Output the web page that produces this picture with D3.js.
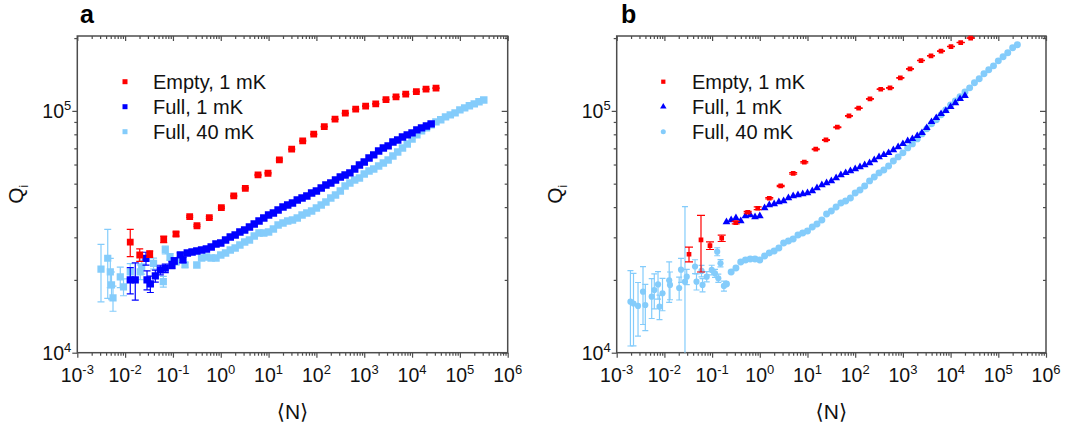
<!DOCTYPE html>
<html>
<head>
<meta charset="utf-8">
<script src="https://cdn.jsdelivr.net/npm/d3@7"></script>
<style>
  body { margin: 0; background: #fff; }
  svg { display: block; font-family: "Liberation Sans", Arial, "DejaVu Sans", sans-serif; }
</style>
</head>
<body>
<div id="chart"></div>
<script>
// Values: mean photon number <N> and internal quality factor Qi

var legendLabels = ["Empty, 1 mK", "Full, 1 mK", "Full, 40 mK"];
var panelLetters = ["a", "b"];
var xTickExps = [-3, -2, -1, 0, 1, 2, 3, 4, 5, 6];
var yTickExps = [4, 5];

// ---------- panel a ----------
var emptyA_N = [0.0128, 0.0202, 0.0327, 0.0641, 0.116, 0.224, 0.318, 0.576, 1.03, 1.87, 3.26, 6.01, 9.73, 16.8, 30.4,
  51.7, 87.9, 146, 245, 402, 663, 1070, 1740, 2850, 4620, 7380, 12300, 19600, 31700];
var emptyA_Q = [28650, 25350, 25590, 29440, 30960, 36540, 33490, 36190, 39810, 44470, 47860, 54330, 55210, 62680, 69420,
  75160, 80100, 86100, 92400, 97800, 101600, 104600, 106900, 111400, 114300, 117300, 120200, 123000, 124200];
var emptyA_err = [3700, 1500, 800, 900, 600, 300, 300, 300, 300, 300, 300, 300, 300, 600, 300,
  300, 300, 300, 300, 300, 300, 300, 300, 300, 300, 300, 300, 300, 300];

var fullA_lowN = [0.0128, 0.0163, 0.0273, 0.0287, 0.0337, 0.0428, 0.0544, 0.0692, 0.0955, 0.1067, 0.1425, 0.162];
var fullA_lowQ = [20000, 20000, 24530, 20000, 19240, 20770, 21990, 22350, 23060, 23950, 25360, 24180];
var fullA_lowErr = [2500, 3500, 1500, 1800, 1500, 1200, 1000, 900, 800, 700, 500, 600];
var fullA_N = [0.200, 0.251, 0.316, 0.398, 0.501, 0.631, 0.794, 1.00, 1.26, 1.58, 2.00, 2.51, 3.16, 3.98, 5.01, 6.31, 7.94,
  10.0, 12.6, 15.8, 20.0, 25.1, 31.6, 39.8, 50.1, 63.1, 79.4, 100, 126, 158, 200, 251, 316, 398, 501, 631, 794,
  1000, 1260, 1580, 2000, 2510, 3160, 3980, 5010, 6310, 7940, 10000, 12600, 15800, 20000, 25100];
var fullA_Q = [25850, 26100, 26350, 26600, 26850, 27370, 28170, 28440, 29260, 30110, 30690, 31580, 32190, 33120, 34080, 35070, 36090,
  37130, 37840, 38940, 40070, 40840, 41630, 42830, 43650, 44490, 45780, 46670, 48020, 49410, 50370, 51830, 53330, 54360, 55410, 57540, 59780,
  61520, 63910, 65770, 68320, 70300, 71660, 74430, 75860, 78060, 79570, 81100, 83450, 85060, 86680, 88360];

var warmA_lowN = [0.00313, 0.00433, 0.00490, 0.00519, 0.00558, 0.00792, 0.00925, 0.0128, 0.0207, 0.0222, 0.0393, 0.0629,
  0.0692, 0.0868, 0.116, 0.179];
var warmA_lowQ = [22140, 24580, 21570, 19060, 16840, 20570, 18700, 21570, 21570, 22630, 23390, 19670,
  26600, 24880, 23730, 23060];
var warmA_lowErr = [5900, 7800, 3000, 2500, 2000, 2000, 1500, 1800, 1500, 1500, 1200, 1000,
  1000, 800, 600, 500];
var warmA_N = [0.316, 0.398, 0.501, 0.631, 0.794, 1.00, 1.26, 1.58, 2.00, 2.51, 3.16, 3.98, 5.01, 6.31, 7.94,
  10.0, 12.6, 15.8, 20.0, 25.1, 31.6, 39.8, 50.1, 63.1, 79.4, 100, 126, 158, 200, 251, 316, 398, 501, 631, 794,
  1000, 1260, 1580, 2000, 2510, 3160, 3980, 5010, 6310, 7940, 10000, 12600, 15800, 20000, 25100, 31600, 39800, 50100,
  63100, 79400, 100000, 126000, 158000, 200000, 251000, 316000];
var warmA_Q = [23060, 24650, 24880, 24650, 24650, 25360, 25850, 26600, 27110, 27900, 28710, 29260, 30400, 31280, 31280,
  31580, 32500, 33760, 34410, 35070, 35400, 36090, 37130, 37840, 38570, 39690, 40840, 42020, 43650, 44920, 46670, 48940, 50370, 51830, 52830,
  54880, 56470, 57540, 59210, 60940, 62700, 65140, 67670, 70300, 73030, 76590, 79570, 82670, 85060, 87520, 90050, 91800, 94450,
  96270, 98110, 100950, 102900, 104900, 106900, 109000, 111000];

// ---------- panel b ----------
var emptyB_N = [0.0328, 0.0585, 0.0903, 0.159, 0.313, 0.557, 0.904, 1.58, 2.74, 5.01, 8.57, 14.9, 24.4, 42.2,
  74.1, 118, 204, 343, 537, 883, 1409, 2395, 3880, 6290, 10190, 16290, 26360];
var emptyB_Q = [25530, 29260, 27720, 29730, 34510, 38090, 39570, 43530, 48940, 55140, 61350, 69430, 75860, 85630,
  95350, 102600, 112100, 122900, 124500, 136900, 149200, 161500, 168900, 176600, 184500, 191700, 200000];
var emptyB_err = [1800, 7700, 1000, 900, 400, 300, 500, 300, 300, 400, 400, 300, 300, 300,
  300, 300, 300, 300, 300, 300, 300, 300, 300, 300, 300, 300, 300];

var fullB_N = [0.200, 0.251, 0.316, 0.398, 0.501, 0.631, 0.794, 1.00, 1.26, 1.58, 2.00, 2.51, 3.16, 3.98, 5.01, 6.31, 7.94,
  10.0, 12.6, 15.8, 20.0, 25.1, 31.6, 39.8, 50.1, 63.1, 79.4, 100, 126, 158, 200, 251, 316, 398, 501, 631, 794,
  1000, 1260, 1580, 2000, 2510, 3160, 3980, 5010, 6310, 7940, 10000, 12600, 15800, 20000];
var fullB_Q = [34740, 35400, 36090, 35070, 36780, 37130, 36430, 36780, 39690, 40840, 41230, 42020, 42420, 43650, 44490, 44920, 45350,
  45780, 46670, 48020, 49410, 50370, 51340, 52830, 54360, 55410, 56470, 57540, 58650, 59780, 60940, 62700, 64520, 65770, 67040, 68970, 70970,
  73030, 75140, 76590, 78820, 81100, 85060, 90050, 93550, 97190, 100000, 103900, 107900, 112100, 115400];

var warmB_lowN = [0.00194, 0.00225, 0.00280, 0.00356, 0.00398, 0.00542, 0.00614, 0.00735, 0.00789, 0.00912, 0.0126, 0.0131,
  0.0204, 0.0223, 0.0270, 0.0294, 0.0439, 0.0471, 0.0600, 0.0630, 0.0771, 0.0982, 0.115, 0.128, 0.135, 0.150, 0.177];
var warmB_lowQ = [16260, 15980, 15610, 17880, 15750, 17050, 18170, 19150, 15500, 17610, 19940, 19060,
  18520, 22050, 19670, 20630, 22730, 19670, 21780, 19060, 20630, 21990, 21300, 26170, 20320, 23440, 18880];
var warmB_lowErr = [5600, 5300, 3900, 4800, 3400, 3200, 3000, 2500, 1800, 2700, 3800, 2500,
  2000, 2500, 20500, 1500, 1500, 1500, 1200, 1200, 1000, 1000, 800, 1000, 800, 800, 900];
var warmB_N = [0.200, 0.251, 0.316, 0.398, 0.501, 0.631, 0.794, 1.00, 1.26, 1.58, 2.00, 2.51, 3.16, 3.98, 5.01, 6.31, 7.94,
  10.0, 12.6, 15.8, 20.0, 25.1, 31.6, 39.8, 50.1, 63.1, 79.4, 100, 126, 158, 200, 251, 316, 398, 501, 631, 794,
  1000, 1260, 1580, 2000, 2510, 3160, 3980, 5010, 6310, 7940, 10000, 12600, 15800, 20000, 25100, 31600, 39800, 50100,
  63100, 79400, 100000, 126000, 158000, 200000, 251000];
var warmB_Q = [19240, 21570, 22410, 23730, 24180, 24420, 24420, 24180, 25120, 25850, 26350, 27110, 28440, 28980, 29540, 30690, 31280,
  31880, 33120, 34080, 35400, 37480, 38570, 40070, 41630, 42420, 43650, 45780, 47120, 48940, 51340, 53330, 55410, 57000, 59210, 62100, 64520,
  67040, 70300, 73030, 76590, 80320, 84250, 88360, 91800, 96270, 100950, 105900, 110000, 114300, 119800, 124500, 130600, 135700, 142300,
  147800, 153500, 161000, 167300, 173800, 182300, 187600];

// ---------- drawing ----------
var width = 1066, height = 429;
var red = "#ff0000", blue = "#0000ff", lightBlue = "#84ccfb";
var axisColor = "#4d4d4d";

var svg = d3.select("#chart").append("svg")
  .attr("width", width)
  .attr("height", height);
svg.append("rect").attr("width", width).attr("height", height).attr("fill", "#fff");

var panels = [
  {
    letter: panelLetters[0], left: 77.3, right: 507.7, top: 36, bottom: 352.7,
    letterX: 80, qX: 23, legX: 125, legTextX: 153, legY: 81.7,
    series: [
      { N: warmA_lowN, Q: warmA_lowQ, err: warmA_lowErr, shape: d3.symbolSquare, size: 52, color: lightBlue, cap: 7 },
      { N: warmA_N, Q: warmA_Q, shape: d3.symbolSquare, size: 56, color: lightBlue },
      { N: fullA_lowN, Q: fullA_lowQ, err: fullA_lowErr, shape: d3.symbolSquare, size: 52, color: blue, cap: 7 },
      { N: fullA_N, Q: fullA_Q, shape: d3.symbolSquare, size: 56, color: blue },
      { N: emptyA_N, Q: emptyA_Q, err: emptyA_err, shape: d3.symbolSquare, size: 46, color: red, cap: 7 }
    ],
    legend: [
      { shape: d3.symbolSquare, size: 25, color: red },
      { shape: d3.symbolSquare, size: 25, color: blue },
      { shape: d3.symbolSquare, size: 25, color: lightBlue }
    ]
  },
  {
    letter: panelLetters[1], left: 616.7, right: 1046, top: 36, bottom: 352.7,
    letterX: 621, qX: 562, legX: 663.3, legTextX: 692, legY: 81.7,
    series: [
      { N: warmB_lowN, Q: warmB_lowQ, err: warmB_lowErr, shape: d3.symbolCircle, size: 30, color: lightBlue, cap: 6 },
      { N: warmB_N, Q: warmB_Q, shape: d3.symbolCircle, size: 38, color: lightBlue },
      { N: fullB_N, Q: fullB_Q, shape: d3.symbolTriangle, size: 26, color: blue },
      { N: emptyB_N, Q: emptyB_Q, err: emptyB_err, shape: d3.symbolSquare, size: 22, color: red, cap: 8 }
    ],
    legend: [
      { shape: d3.symbolSquare, size: 18, color: red },
      { shape: d3.symbolTriangle, size: 18, color: blue },
      { shape: d3.symbolCircle, size: 20, color: lightBlue }
    ]
  }
];

function minorValues(exps) {
  var out = [];
  for (var i = 0; i < exps.length - 1; i++) {
    for (var m = 2; m <= 9; m++) out.push(m * Math.pow(10, exps[i]));
  }
  return out;
}

panels.forEach(function (p, pi) {
  var x = d3.scaleLog().domain([1e-3, 1e6]).range([p.left, p.right]);
  var y = d3.scaleLog().domain([1e4, 2.04e5]).range([p.bottom, p.top]);
  var g = svg.append("g");

  var xMajor = xTickExps.map(function (e) { return Math.pow(10, e); });
  var xMinor = minorValues(xTickExps);
  var yMajor = yTickExps.map(function (e) { return Math.pow(10, e); });
  var yMinor = minorValues([4, 5, 6]).filter(function (v) { return v <= 2.04e5; });

  // axes: bottom/left ticks outward, top/right ticks inward
  function addAxis(axis, tr) {
    var a = g.append("g").attr("transform", tr).call(axis);
    a.select(".domain").remove();
    a.selectAll("line").attr("stroke", axisColor).attr("stroke-width", 1.2);
  }
  addAxis(d3.axisBottom(x).tickValues(xMajor).tickSize(5).tickFormat(""), "translate(0," + p.bottom + ")");
  addAxis(d3.axisBottom(x).tickValues(xMinor).tickSize(3).tickFormat(""), "translate(0," + p.bottom + ")");
  addAxis(d3.axisTop(x).tickValues(xMajor).tickSize(-5).tickFormat(""), "translate(0," + p.top + ")");
  addAxis(d3.axisTop(x).tickValues(xMinor).tickSize(-3).tickFormat(""), "translate(0," + p.top + ")");
  addAxis(d3.axisLeft(y).tickValues(yMajor).tickSize(5).tickFormat(""), "translate(" + p.left + ",0)");
  addAxis(d3.axisLeft(y).tickValues(yMinor).tickSize(3).tickFormat(""), "translate(" + p.left + ",0)");
  addAxis(d3.axisRight(y).tickValues(yMajor).tickSize(-6).tickFormat(""), "translate(" + p.right + ",0)");
  addAxis(d3.axisRight(y).tickValues(yMinor).tickSize(-3).tickFormat(""), "translate(" + p.right + ",0)");

  // frame
  g.append("rect")
    .attr("x", p.left).attr("y", p.top)
    .attr("width", p.right - p.left).attr("height", p.bottom - p.top)
    .attr("fill", "none").attr("stroke", axisColor).attr("stroke-width", 1.5);

  // tick labels with superscript exponents
  xTickExps.forEach(function (e) {
    var t = g.append("text")
      .attr("x", x(Math.pow(10, e))).attr("y", 382)
      .attr("text-anchor", "middle").attr("font-size", 19.5).attr("fill", "#111");
    t.append("tspan").text("10");
    t.append("tspan").attr("font-size", 13).attr("dy", -8).text(e);
  });
  yTickExps.forEach(function (e) {
    var t = g.append("text")
      .attr("x", p.left - 6).attr("y", y(Math.pow(10, e)) + 7)
      .attr("text-anchor", "end").attr("font-size", 19.5).attr("fill", "#111");
    t.append("tspan").text("10");
    t.append("tspan").attr("font-size", 13).attr("dy", -8).text(e);
  });

  // axis titles
  g.append("text")
    .attr("x", (p.left + p.right) / 2).attr("y", 419)
    .attr("text-anchor", "middle").attr("font-size", 21).attr("fill", "#111")
    .text("\u27E8N\u27E9");
  var q = g.append("text")
    .attr("transform", "translate(" + p.qX + "," + ((p.top + p.bottom) / 2) + ") rotate(-90)")
    .attr("text-anchor", "middle").attr("font-size", 21).attr("fill", "#111");
  q.append("tspan").text("Q");
  q.append("tspan").attr("font-size", 12).attr("dy", 5).text("i");

  // panel letter
  g.append("text")
    .attr("x", p.letterX).attr("y", 23)
    .attr("font-size", 25).attr("font-weight", "bold").attr("fill", "#000")
    .text(p.letter);

  // data
  var clipId = "clip" + pi;
  svg.append("clipPath").attr("id", clipId)
    .append("rect").attr("x", p.left).attr("y", p.top - 4)
    .attr("width", p.right - p.left).attr("height", p.bottom - p.top + 4);
  var plot = g.append("g").attr("clip-path", "url(#" + clipId + ")");

  p.series.forEach(function (s) {
    var pts = d3.zip(s.N, s.Q, s.err || s.N.map(function () { return 0; }));
    if (s.err) {
      var eb = plot.append("g").attr("stroke", s.color).attr("stroke-width", 1.2);
      pts.forEach(function (d) {
        if (!d[2]) return;
        var cx = x(d[0]);
        var y1 = y(d[1] + d[2]);
        var y0 = d[1] - d[2] > 5000 ? y(d[1] - d[2]) : p.bottom + 10;
        eb.append("line").attr("x1", cx).attr("x2", cx).attr("y1", y0).attr("y2", y1);
        eb.append("line").attr("x1", cx - s.cap / 2).attr("x2", cx + s.cap / 2).attr("y1", y1).attr("y2", y1);
        eb.append("line").attr("x1", cx - s.cap / 2).attr("x2", cx + s.cap / 2).attr("y1", y0).attr("y2", y0);
      });
    }
    plot.append("g").selectAll("path")
      .data(pts)
      .join("path")
      .attr("transform", function (d) { return "translate(" + x(d[0]) + "," + y(d[1]) + ")"; })
      .attr("d", d3.symbol(s.shape, s.size)())
      .attr("fill", s.color);
  });

  // legend
  p.legend.forEach(function (l, i) {
    var ly = p.legY + i * 25;
    g.append("path")
      .attr("transform", "translate(" + p.legX + "," + ly + ")")
      .attr("d", d3.symbol(l.shape, l.size)())
      .attr("fill", l.color);
    g.append("text")
      .attr("x", p.legTextX).attr("y", ly + 7.5)
      .attr("font-size", 20).attr("fill", "#111")
      .text(legendLabels[i]);
  });
});
</script>
</body>
</html>
